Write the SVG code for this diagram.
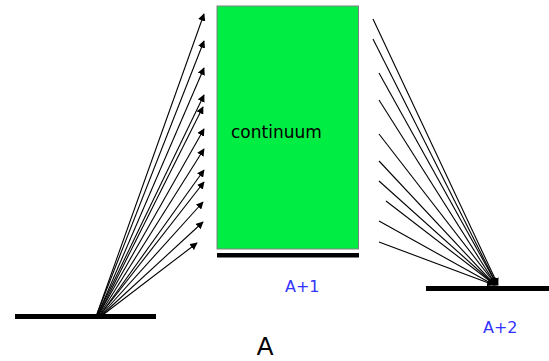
<svg xmlns="http://www.w3.org/2000/svg" width="549" height="361" viewBox="0 0 549 361">
<style>
.bar{fill:#000}
.ln{stroke:#000;stroke-width:1.1;fill:none}
.arr{marker-end:url(#ah)}
.lbl{font-family:"DejaVu Sans",sans-serif;fill:#3333ff;font-size:16px}
</style>
<defs>
<marker id="ah" viewBox="0 0 10 10" refX="9" refY="5" markerWidth="7.5" markerHeight="7.5" markerUnits="userSpaceOnUse" orient="auto">
<path d="M0,0 L10,5 L0,10 z" fill="#000"/>
</marker>
</defs>
<rect width="549" height="361" fill="#fff"/>
<g id="level-A">
<rect class="bar" x="15" y="314" width="141" height="5"/>
<text x="265" y="355" font-family="Liberation Sans, Arial, sans-serif" font-size="25" text-anchor="middle" fill="#000">A</text>
</g>
<g id="continuum">
<rect x="217" y="6" width="141.5" height="243" fill="#00ee44" stroke="#808080" stroke-width="1"/>
<text x="231" y="138" font-family="DejaVu Sans, sans-serif" font-size="17" fill="#000">continuum</text>
<rect class="bar" x="217" y="253" width="142" height="4.5"/>
<text class="lbl" x="285" y="292">A+1</text>
</g>
<g id="level-A2">
<rect class="bar" x="426" y="286" width="123" height="5"/>
<text class="lbl" x="483" y="333">A+2</text>
</g>
<g id="connectors">
<line class="ln arr" x1="97" y1="314" x2="204" y2="14"/>
<line class="ln arr" x1="97" y1="314" x2="204" y2="41"/>
<line class="ln arr" x1="98" y1="314" x2="204" y2="68"/>
<line class="ln arr" x1="98" y1="314" x2="204" y2="95"/>
<line class="ln arr" x1="99" y1="314" x2="203" y2="107"/>
<line class="ln arr" x1="99" y1="314" x2="204" y2="129"/>
<line class="ln arr" x1="100" y1="314" x2="204" y2="149"/>
<line class="ln arr" x1="101" y1="314" x2="204" y2="170"/>
<line class="ln arr" x1="101" y1="314" x2="204" y2="182"/>
<line class="ln arr" x1="102" y1="314" x2="203" y2="202"/>
<line class="ln arr" x1="103" y1="314" x2="203" y2="222"/>
<line class="ln arr" x1="104" y1="314" x2="197" y2="243"/>
<line class="ln arr" x1="373" y1="19" x2="498" y2="285"/>
<line class="ln arr" x1="373" y1="39" x2="497" y2="285"/>
<line class="ln arr" x1="379" y1="73" x2="497" y2="285"/>
<line class="ln arr" x1="379" y1="100" x2="496" y2="285"/>
<line class="ln arr" x1="379" y1="134" x2="496" y2="285"/>
<line class="ln arr" x1="379" y1="161" x2="495" y2="285"/>
<line class="ln arr" x1="379" y1="181" x2="495" y2="285"/>
<line class="ln arr" x1="386" y1="201" x2="495" y2="285"/>
<line class="ln arr" x1="379" y1="221" x2="494" y2="285"/>
<line class="ln arr" x1="379" y1="242" x2="494" y2="285"/>
</g>
</svg>
